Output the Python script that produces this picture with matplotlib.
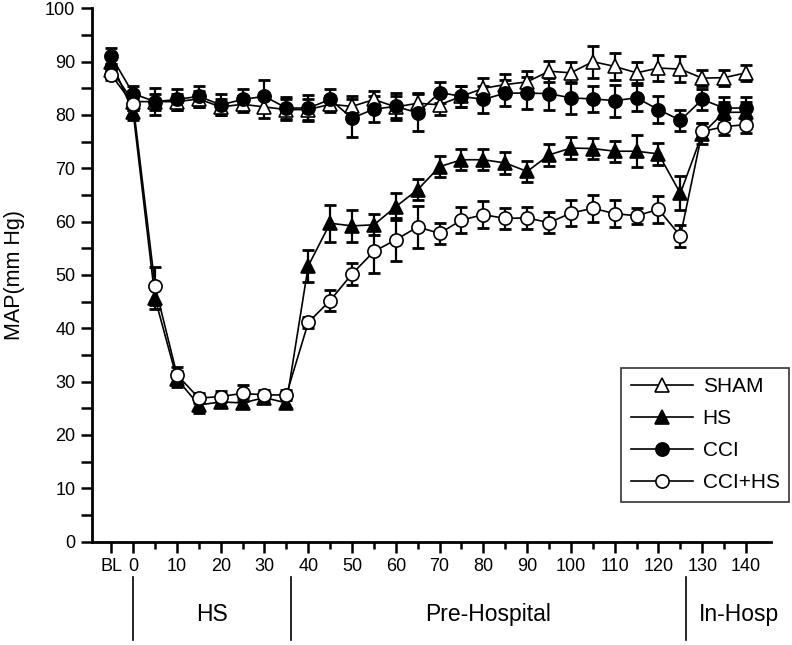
import matplotlib
matplotlib.use("Agg")
import matplotlib.pyplot as plt
from matplotlib import font_manager
from matplotlib.ticker import MultipleLocator, FixedLocator
from matplotlib.lines import Line2D
import matplotlib.transforms as mtransforms

names = {f.name for f in font_manager.fontManager.ttflist}
FONT = "Liberation Sans" if "Liberation Sans" in names else "DejaVu Sans"
plt.rcParams['font.family'] = [FONT, 'DejaVu Sans']

# ---- data ----
time_x = [-5, 0, 5, 10, 15, 20, 25, 30, 35, 40, 45, 50, 55, 60, 65, 70, 75,
          80, 85, 90, 95, 100, 105, 110, 115, 120, 125, 130, 135, 140]
tick_pos = [-5, 0, 10, 20, 30, 40, 50, 60, 70, 80, 90, 100, 110, 120, 130, 140]
tick_labels = ["BL", "0", "10", "20", "30", "40", "50", "60", "70", "80", "90",
               "100", "110", "120", "130", "140"]

sham = [88.5, 82.5, 82.5, 82.5, 83, 81.5, 82, 81.5, 81, 81, 82, 81.6, 82.9, 81.5,
        82.2, 81.9, 83.5, 85, 85.7, 86.2, 88.2, 87.9, 90, 89.1, 87.9, 88.8, 88.6,
        86.9, 87, 87.9]
sham_err = [1, 1.5, 1.5, 1.5, 1.5, 1.5, 1.5, 2, 2, 2, 1.5, 2, 1.5, 2, 2, 2, 2, 2,
            2, 2, 2, 2, 3, 2.5, 2, 2.5, 2.5, 1.5, 1.5, 1.5]

hs = [90, 80.5, 45.6, 30.5, 25.6, 26.2, 26, 27, 26, 51.7, 59.7, 59.2, 59.4, 62.8,
      66, 70.3, 71.6, 71.6, 71, 69.4, 72.5, 73.8, 73.7, 73.2, 73.2, 72.7, 65.3,
      76.5, 80.5, 80.5]
hs_err = [1.5, 1.5, 2, 1.5, 1.5, 1, 1, 1, 1, 3, 3.5, 3, 2, 2.5, 2, 2, 2, 2, 2, 2,
          2, 2, 2, 2, 3, 2, 3.2, 2, 2, 2]

cci = [91, 84, 82.5, 82.9, 83.5, 81.9, 82.9, 83.5, 81.3, 81.3, 82.9, 79.4, 81.1,
       81.6, 80.4, 84.2, 83.5, 82.9, 84.1, 84.1, 84, 83.2, 83, 82.7, 83.2, 81, 79,
       82.9, 81.3, 81.3]
cci_err = [1.5, 1.5, 2.5, 2, 2, 2, 2, 3, 2, 2.5, 2, 3.5, 2.5, 2.5, 3.5, 2, 2, 2.5,
           2.5, 3, 3, 3, 2.5, 3, 2.5, 2.5, 2, 2, 2, 2]

cci_hs = [87.5, 82, 47.9, 31.3, 26.9, 27.2, 27.8, 27.5, 27.5, 41.1, 45.2, 50.2,
          54.4, 56.6, 59, 57.8, 60.3, 61.3, 60.6, 60.7, 59.8, 61.6, 62.5, 61.5,
          61.1, 62.3, 57.3, 76.9, 77.8, 78.2]
cci_hs_err = [1, 1, 3.5, 1.5, 1, 1, 1.5, 1, 1, 1, 2, 2, 4, 4, 4, 2, 2.5, 2.5, 2,
              2, 2, 2.5, 2.5, 2.5, 1.5, 2.5, 2.1, 1.5, 1.5, 1.5]

phase_bounds = [0, 36, 126.3]
phase_names = ["HS", "Pre-Hospital", "In-Hosp"]
phase_centers = [18, 81, 138.3]

series = [
    ("SHAM", sham, sham_err, "^", "white", 10.5),
    ("HS", hs, hs_err, "^", "black", 10.5),
    ("CCI", cci, cci_err, "o", "black", 9.5),
    ("CCI+HS", cci_hs, cci_hs_err, "o", "white", 9.5),
]

fig = plt.figure(figsize=(7.92, 6.45), dpi=100)
L, R, T, B = 92, 771, 8.3, 541.6
ax = fig.add_axes([L / 792, 1 - B / 645, (R - L) / 792, (B - T) / 645])

handles = []
for i, (name, y, e, m, fc, ms) in enumerate(series):
    ax.errorbar(time_x, y, yerr=e, fmt="none", ecolor="black", elinewidth=1.6,
                capsize=4.2, capthick=2.0, zorder=2 + i * 0.1, clip_on=False)
    ax.plot(time_x, y, color="black", lw=1.2, marker=m, ms=ms, mfc=fc, mec="black",
            mew=1.2, zorder=3 + i * 0.1, clip_on=False)
    handles.append(Line2D([], [], color="black", lw=1.2, marker=m, ms=ms, mfc=fc,
                          mec="black", mew=1.2, label=name))

ax.set_xlim(-9.4, 145.7)
ax.set_ylim(0, 100)
for s in ["top", "right"]:
    ax.spines[s].set_visible(False)
for s in ["left", "bottom"]:
    ax.spines[s].set_linewidth(2.0)

ax.xaxis.set_major_locator(FixedLocator(tick_pos))
ax.set_xticklabels(tick_labels)
ax.xaxis.set_minor_locator(FixedLocator([5, 15, 25, 35, 45, 55, 65, 75, 85, 95,
                                         105, 115, 125, 135]))
ax.yaxis.set_major_locator(MultipleLocator(10))
ax.yaxis.set_minor_locator(MultipleLocator(5))
ax.tick_params(axis="both", which="major", direction="out", length=8, width=1.8,
               labelsize=13, pad=4)
ax.tick_params(axis="both", which="minor", direction="out", length=5, width=1.8)
ax.tick_params(axis="y", which="minor", length=8)
ax.set_ylabel("MAP(mm Hg)", fontsize=15.5)
ax.yaxis.set_label_coords(-0.098, 0.5)

trans = mtransforms.blended_transform_factory(ax.transData, ax.transAxes)
for xb in phase_bounds:
    ax.plot([xb, xb], [-0.066, -0.185], color="black", lw=1.2, transform=trans,
            clip_on=False)
for xc, nm in zip(phase_centers, phase_names):
    ax.text(xc, -0.137, nm, transform=trans, ha="center", va="center",
            fontsize=16.5, clip_on=False)

leg = ax.legend(handles=handles, loc="upper right",
                bbox_to_anchor=(789 / 792, 1 - 368 / 645),
                bbox_transform=fig.transFigure, fontsize=15, frameon=True,
                fancybox=False, edgecolor="black", numpoints=1, handlelength=3.0,
                handletextpad=0.45, labelspacing=0.62, borderpad=0.45,
                borderaxespad=0)
leg.get_frame().set_linewidth(1.2)
leg.set_zorder(10)

fig.savefig("out.png", dpi=100)
